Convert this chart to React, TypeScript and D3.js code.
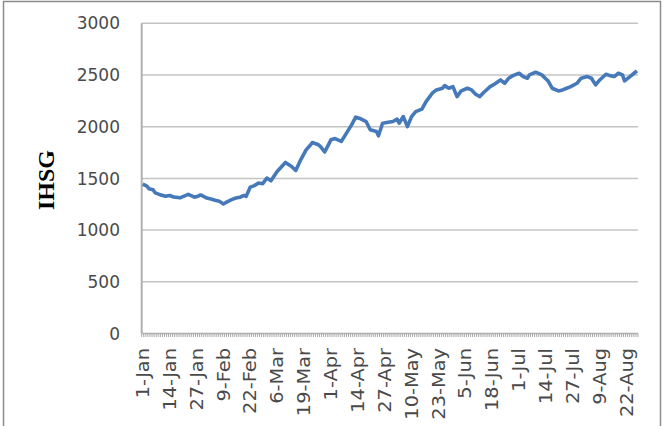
import React from "react";
import * as d3 from "d3";

// values (daily-ish samples)
const YEAR = 2008;
const dates = [
  "01-01", "01-03", "01-04", "01-06", "01-07", "01-09", "01-12", "01-14", "01-16", "01-19",
  "01-21", "01-23", "01-26", "01-28", "01-29", "02-01", "02-03", "02-05", "02-07", "02-09",
  "02-11", "02-13", "02-15", "02-17", "02-19", "02-20", "02-22", "02-24", "02-26", "02-28",
  "03-01", "03-03", "03-06", "03-08", "03-10", "03-13", "03-15", "03-17", "03-20", "03-22",
  "03-23", "03-26", "03-27", "03-29", "04-01", "04-03", "04-06", "04-08", "04-11", "04-13",
  "04-15", "04-18", "04-20", "04-23", "04-24", "04-26", "04-28", "05-01", "05-03", "05-04",
  "05-06", "05-08", "05-10", "05-12", "05-15", "05-17", "05-20", "05-22", "05-25", "05-26",
  "05-28", "05-30", "06-01", "06-03", "06-06", "06-08", "06-10", "06-12", "06-14", "06-17",
  "06-19", "06-22", "06-24", "06-26", "06-28", "07-01", "07-03", "07-05", "07-06", "07-09",
  "07-12", "07-14", "07-15", "07-17", "07-20", "07-22", "07-24", "07-26", "07-29", "07-31",
  "08-03", "08-05", "08-07", "08-09", "08-12", "08-14", "08-16", "08-18", "08-20", "08-21",
  "08-23", "08-25", "08-27",
];
const ihsg = [
  1445, 1425, 1400, 1390, 1360, 1345, 1328, 1335, 1320, 1312,
  1328, 1345, 1318, 1330, 1340, 1310, 1300, 1288, 1280, 1252,
  1275, 1295, 1310, 1318, 1335, 1326, 1416, 1430, 1455, 1448,
  1503, 1477, 1567, 1610, 1654, 1615, 1577, 1664, 1776, 1820,
  1847, 1825, 1808, 1755, 1873, 1885, 1857, 1921, 2018, 2092,
  2080, 2050, 1970, 1953, 1912, 2034, 2040, 2050, 2073, 2034,
  2098, 2001, 2098, 2146, 2170, 2243, 2324, 2356, 2372, 2397,
  2372, 2388, 2291, 2346, 2372, 2356, 2314, 2291, 2333, 2388,
  2411, 2452, 2420, 2469, 2494, 2517, 2485, 2469, 2501, 2527,
  2501, 2462, 2443, 2372, 2346, 2356, 2372, 2388, 2420, 2469,
  2485, 2469, 2404, 2452, 2507, 2494, 2485, 2517, 2501, 2443,
  2475, 2507, 2540,
];
const xTickLabels = [
  "1-Jan", "14-Jan", "27-Jan", "9-Feb", "22-Feb", "6-Mar", "19-Mar", "1-Apr", "14-Apr", "27-Apr",
  "10-May", "23-May", "5-Jun", "18-Jun", "1-Jul", "14-Jul", "27-Jul", "9-Aug", "22-Aug",
];
const yTicks = [0, 500, 1000, 1500, 2000, 2500, 3000];

const W = 669;
const H = 426;
const plot = { left: 141.7, right: 638, top: 23.3, bottom: 333.5 };

const parseDay = d3.timeParse("%Y-%m-%d");
const parseLabel = d3.timeParse("%d-%b-%Y");

export default function App() {
  const points = dates.map((d, i) => ({ date: parseDay(`${YEAR}-${d}`) as Date, value: ihsg[i] }));
  const first = points[0].date;
  const last = points[points.length - 1].date;

  // each day is a slot, points sit in the middle of it
  const x = d3
    .scaleTime()
    .domain([d3.timeHour.offset(first, -12), d3.timeHour.offset(last, 12)])
    .range([plot.left, plot.right]);
  const y = d3.scaleLinear().domain([0, 3000]).range([plot.bottom, plot.top]);

  const line = d3
    .line<{ date: Date; value: number }>()
    .x((d) => x(d.date))
    .y((d) => y(d.value));

  const dayTicks = d3.timeDay.range(first, d3.timeDay.offset(last, 2)).map((d) => d3.timeHour.offset(d, -12));

  return (
    <svg width={W} height={H} style={{ position: "absolute", left: 0, top: 0, background: "#fff" }}>
      <rect x={3.5} y={1.5} width={657} height={440} fill="#fff" stroke="#8c8c8c" strokeWidth={1.5} />

      {/* gridlines */}
      {yTicks.slice(1).map((t) => (
        <line key={t} x1={plot.left} x2={plot.right} y1={y(t)} y2={y(t)} stroke="#c4c4c4" strokeWidth={1.5} />
      ))}

      {/* y axis */}
      <line x1={plot.left} x2={plot.left} y1={plot.top} y2={plot.bottom} stroke="#b0b0b0" strokeWidth={2} />
      {yTicks.map((t) => (
        <text
          key={t}
          x={120}
          y={y(t)}
          dy="0.36em"
          textAnchor="end"
          fontFamily="'DejaVu Sans', sans-serif"
          fontSize={17}
          fill="#4a4a4a"
        >
          {t}
        </text>
      ))}

      {/* x axis with a tick for every day */}
      <line x1={plot.left} x2={plot.right} y1={plot.bottom} y2={plot.bottom} stroke="#b0b0b0" strokeWidth={1.5} />
      {dayTicks.map((d, i) => (
        <line key={i} x1={x(d)} x2={x(d)} y1={plot.bottom} y2={plot.bottom + 3.5} stroke="#a8a8a8" strokeWidth={1} />
      ))}
      {xTickLabels.map((lab) => {
        const d = parseLabel(`${lab}-${YEAR}`) as Date;
        return (
          <text
            key={lab}
            transform={`translate(${x(d)},348) rotate(-90) scale(1.14,1)`}
            dy="0.36em"
            textAnchor="end"
            fontFamily="'DejaVu Sans', sans-serif"
            fontSize={17}
            fill="#4a4a4a"
          >
            {lab}
          </text>
        );
      })}

      {/* axis title */}
      <text
        transform="translate(45,180) rotate(-90)"
        dy="0.36em"
        textAnchor="middle"
        fontFamily="'Liberation Serif', 'Times New Roman', serif"
        fontWeight="bold"
        fontSize={24}
        fill="#000"
      >
        IHSG
      </text>

      {/* series */}
      <path d={line(points) ?? ""} fill="none" stroke="#4679b9" strokeWidth={3.6} strokeLinejoin="round" />
    </svg>
  );
}
